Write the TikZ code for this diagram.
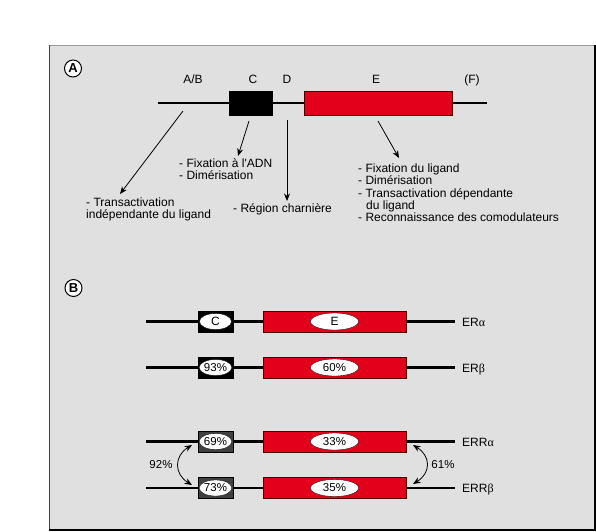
\documentclass[tikz,border=0pt]{standalone}
\usepackage{fontspec}
\setmainfont{Liberation Sans}
\newfontfamily\plainsans{Liberation Sans}
\newfontfamily\grk{Liberation Serif}
\usetikzlibrary{arrows.meta,calc,shapes.geometric}
\definecolor{bg}{RGB}{224,224,224}
\definecolor{rred}{RGB}{226,0,26}
\definecolor{dgray}{RGB}{64,64,64}
\begin{document}
\begin{tikzpicture}[x=1pt,y=-1pt,
  lbl/.style={font=\fontsize{12}{12.3}\selectfont, inner sep=0pt},
  pct/.style={font=\fontsize{11.5}{12}\selectfont, inner sep=0pt},
  mainline/.style={line width=2.8pt, line cap=butt},
  arr/.style={line width=0.8pt, -{Stealth[length=7.5pt,width=6pt]}},
  darr/.style={line width=0.8pt, {Stealth[length=7.5pt,width=6pt]}-{Stealth[length=7.5pt,width=6pt]}},
  cboxA/.style={fill=black, draw=black, line width=0.4pt, minimum width=43pt, minimum height=24pt, inner sep=0pt},
  eboxA/.style={fill=rred, draw=black!70!red, line width=0.5pt, minimum width=148pt, minimum height=24pt, inner sep=0pt},
  cbox/.style={draw=black, line width=0.4pt, minimum width=35pt, minimum height=21pt, inner sep=0pt},
  ebox/.style={fill=rred, draw=black!70!red, line width=0.5pt, minimum width=143pt, minimum height=21pt, inner sep=0pt},
  cell/.style={ellipse, fill=white, draw=black, line width=0.3pt, minimum width=32pt, minimum height=16pt, inner sep=0pt, pct},
  eell/.style={ellipse, fill=white, draw=black, line width=0.3pt, minimum width=48pt, minimum height=17pt, inner sep=0pt, pct},
  circ/.style={circle, draw=black, fill=white, line width=1pt, minimum size=17pt, inner sep=0pt, font=\bfseries\fontsize{13}{13}\selectfont}
]
\useasboundingbox (0,0) rectangle (596,531);
% frame
\fill[bg] (49,45) rectangle (595,530);
\draw[black!40, line width=1pt] (49,45) -- (595,45);
\draw[black!75, line width=1pt] (49,530) -- (49,45);
\draw[black, line width=1.3pt] (595,45) -- (595,530) -- (49,530);

% ---------- Panel A ----------
\node[circ] (cA) at (73,68.5) {A};
\coordinate (LA0) at (158,103);
\coordinate (LA1) at (487,103);
\draw[mainline] (LA0) -- (LA1);
\node[cboxA] (CA) at (250.5,103) {};
\node[eboxA] (EA) at (378,103) {};

\node[lbl, anchor=base] (lAB) at (193,83.5) {A/B};
\node[lbl, anchor=base] (lC) at (253,83.5) {C};
\node[lbl, anchor=base] (lD) at (287,83.5) {D};
\node[lbl, anchor=base] (lE) at (376,83.5) {E};
\node[lbl, anchor=base] (lF) at (472,83.5) {(F)};

\coordinate (s1) at (183,111);
\coordinate (e1) at (120,194);
\coordinate (s2) at (249,121);
\coordinate (e2) at (238,156);
\coordinate (s3) at (287,120);
\coordinate (e3) at (287,201);
\coordinate (s4) at (378,121);
\coordinate (e4) at (399,158);
\draw[arr] (s1) -- (e1);
\draw[arr] (s2) -- (e2);
\draw[arr] (s3) -- (e3);
\draw[arr] (s4) -- (e4);

\node[lbl, anchor=north west, align=left] (t1) at (86,197.5) {- Transactivation\\indépendante du ligand};
\node[lbl, anchor=north west, align=left] (t2) at (179,158.5) {- Fixation à l{\plainsans '}ADN\\- Dimérisation};
\node[lbl, anchor=base west] (t3) at (233,212.5) {- Région charnière};
\node[lbl, anchor=north west, align=left] (t4) at (358,163.5) {- Fixation du ligand\\- Dimérisation\\- Transactivation dépendante\\\hspace*{8pt}du ligand\\- Reconnaissance des comodulateurs};

% ---------- Panel B ----------
\node[circ] (cB) at (73.5,288) {B};

% row 1 : ERalpha
\coordinate (a0) at (146,321.5);
\coordinate (a1) at (455,321.5);
\draw[mainline] (a0) -- (a1);
\node[cbox, fill=black] (cb1) at (215.5,321.5) {};
\node[ebox] (eb1) at (334.5,321.5) {};
\node[cell, font=\fontsize{12}{12}\selectfont] (ce1) at (cb1) {C};
\node[eell, font=\fontsize{12}{12}\selectfont] (ee1) at (eb1) {E};
\node[lbl, anchor=base west] (n1) at (462,326) {ER{\grk α}};

% row 2 : ERbeta
\coordinate (b0) at (146,367.5);
\coordinate (b1) at (455,367.5);
\draw[mainline] (b0) -- (b1);
\node[cbox, fill=black] (cb2) at (215.5,367.5) {};
\node[ebox] (eb2) at (334.5,367.5) {};
\node[cell] (ce2) at (cb2) {93\%};
\node[eell] (ee2) at (eb2) {60\%};
\node[lbl, anchor=base west] (n2) at (462,372) {ER{\grk β}};

% row 3 : ERRalpha
\coordinate (c0) at (146,441.5);
\coordinate (c1) at (455,441.5);
\draw[mainline] (c0) -- (c1);
\node[cbox, fill=dgray] (cb3) at (215.5,441.5) {};
\node[ebox] (eb3) at (334.5,441.5) {};
\node[cell] (ce3) at (cb3) {69\%};
\node[eell] (ee3) at (eb3) {33\%};
\node[lbl, anchor=base west] (n3) at (462,446) {ERR{\grk α}};

% row 4 : ERRbeta
\coordinate (d0) at (146,488);
\coordinate (d1) at (455,488);
\draw[mainline] (d0) -- (d1);
\node[cbox, fill=dgray] (cb4) at (215.5,488) {};
\node[ebox] (eb4) at (334.5,488) {};
\node[cell] (ce4) at (cb4) {73\%};
\node[eell] (ee4) at (eb4) {35\%};
\node[lbl, anchor=base west] (n4) at (462,492.5) {ERR{\grk β}};

% homology arrows
\coordinate (hl0) at (192,445);
\coordinate (hl1) at (192,485);
\draw[darr] (hl0) .. controls (174,456) and (174,474) .. (hl1);
\node[pct] (p92) at (161,465) {92\%};
\coordinate (hr0) at (413,445);
\coordinate (hr1) at (413,484);
\draw[darr] (hr0) .. controls (431,456) and (431,473) .. (hr1);
\node[pct] (p61) at (443,465) {61\%};
\end{tikzpicture}
\end{document}
